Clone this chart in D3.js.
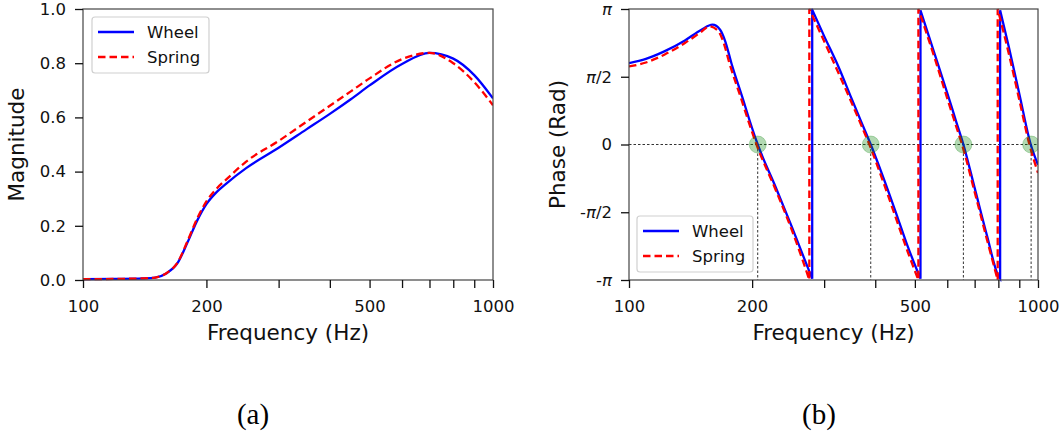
<!DOCTYPE html>
<html>
<head>
<meta charset="utf-8">
<script src="https://cdn.jsdelivr.net/npm/d3@7"></script>
<style>
  body { margin: 0; background: #fff; }
  svg { display: block; }
  text { font-family: "DejaVu Sans", sans-serif; }
  .tick text { font-family: "DejaVu Sans", sans-serif; font-size: 16.5px; fill: #111; }
  .tick line { stroke: #111; stroke-width: 1.3; }
  .frame { fill: none; stroke: #444; stroke-width: 1.2; }
  .axis-label { font-size: 21.5px; fill: #111; }
  .legend-text { font-size: 16.5px; fill: #111; }
  .caption { font-family: "Liberation Serif", "Times New Roman", serif; font-size: 29px; fill: #000; }
  .guide { stroke: #333; stroke-width: 1; stroke-dasharray: 2.5, 2; fill: none; }
</style>
</head>
<body>
<svg id="chart" width="1063" height="439"></svg>
<script>
// ---- data ----
const seriesNames = ["Wheel", "Spring"];

const magFreq = [100, 120, 140, 150, 160, 170, 180, 190, 200, 212, 224, 250, 300, 350, 400, 450, 500, 600, 700, 800, 900, 1000];
const magWheel = [0.003, 0.004, 0.006, 0.009, 0.025, 0.062, 0.14, 0.22, 0.28, 0.325, 0.357, 0.413, 0.488, 0.555, 0.613, 0.667, 0.718, 0.797, 0.838, 0.817, 0.756, 0.67];
const magSpring = [0.003, 0.004, 0.006, 0.009, 0.026, 0.064, 0.145, 0.228, 0.29, 0.338, 0.372, 0.437, 0.513, 0.583, 0.643, 0.696, 0.744, 0.815, 0.838, 0.80, 0.73, 0.645];

// phase in multiples of pi; repeated frequency = wrap from -pi to pi
const phaseWheelFreq = [100, 110, 122, 137, 150, 160, 167, 172, 178, 189, 200, 206.4, 228, 250, 269, 280.5,
  280.5, 300, 325, 350, 370, 390, 420, 455, 480, 516,
  516, 560, 600, 630, 657, 700, 750, 800, 808,
  808, 850, 900, 960, 1000];
const phaseWheel = [0.601, 0.632, 0.687, 0.768, 0.845, 0.884, 0.847, 0.76, 0.60, 0.355, 0.12, 0, -0.31, -0.606, -0.852, -0.99,
  0.995, 0.80, 0.576, 0.34, 0.165, 0, -0.256, -0.55, -0.75, -0.99,
  0.99, 0.66, 0.38, 0.175, 0, -0.32, -0.67, -0.97, -0.99,
  0.99, 0.71, 0.375, 0, -0.15];

const phaseSpringFreq = [100, 110, 122, 137, 150, 157, 165, 170, 176, 187, 198, 205, 228, 250, 268, 276,
  276, 295, 325, 350, 370, 387, 420, 455, 480, 510,
  510, 560, 600, 630, 652, 700, 750, 797,
  797, 850, 900, 953, 1000];
const phaseSpring = [0.576, 0.605, 0.663, 0.749, 0.83, 0.872, 0.84, 0.76, 0.60, 0.36, 0.13, 0, -0.33, -0.63, -0.885, -1.0,
  1.0, 0.81, 0.53, 0.31, 0.14, 0, -0.29, -0.59, -0.79, -1.0,
  1.0, 0.63, 0.34, 0.14, 0, -0.35, -0.70, -1.0,
  1.0, 0.66, 0.33, 0, -0.21];

const zeroCrossings = [206.4, 390, 657, 962];

const freqTicks = [100, 200, 300, 400, 500, 600, 700, 800, 900, 1000];
const freqTickLabels = [100, 200, 500, 1000];
const magTicks = [0, 0.2, 0.4, 0.6, 0.8, 1.0];
const phaseTicks = [-1, -0.5, 0, 0.5, 1];
const phaseTickLabels = ["-π", "-π/2", "0", "π/2", "π"];

// ---- layout ----
const colors = { Wheel: "#0000ff", Spring: "#ff0000" };
const svg = d3.select("#chart");

const panels = [
  { id: "mag", left: 83, right: 493, top: 9, bottom: 280, legend: [92, 17, 117, 56], ylabel: "Magnitude", ylabelX: 24, caption: "(a)", captionX: 253 },
  { id: "phase", left: 629, right: 1038, top: 9, bottom: 280, legend: [637, 216, 116, 56], ylabel: "Phase (Rad)", ylabelX: 565, caption: "(b)", captionX: 819 },
];

panels.forEach((p) => {
  p.x = d3.scaleLog().domain([100, 1000]).range([p.left, p.right]);
  p.g = svg.append("g").attr("class", `panel panel--${p.id}`);
  p.g.append("clipPath").attr("id", `clip-${p.id}`)
    .append("rect")
    .attr("x", p.left).attr("y", p.top - 2)
    .attr("width", p.right - p.left).attr("height", p.bottom - p.top + 4);
});

const [magP, phaseP] = panels;
magP.y = d3.scaleLinear().domain([0, 1]).range([magP.bottom, magP.top]);
phaseP.y = d3.scaleLinear().domain([-Math.PI, Math.PI]).range([phaseP.bottom, phaseP.top]);

// ---- magnitude curves ----
const magLine = d3.line()
  .x((d) => magP.x(d[0]))
  .y((d) => magP.y(d[1]))
  .curve(d3.curveMonotoneX);

const magSeries = [
  { name: "Wheel", values: magFreq.map((f, i) => [f, magWheel[i]]) },
  { name: "Spring", values: magFreq.map((f, i) => [f, magSpring[i]]) },
];

magP.g.append("g").attr("clip-path", "url(#clip-mag)")
  .selectAll("path")
  .data(magSeries)
  .join("path")
  .attr("d", (d) => magLine(d.values))
  .attr("fill", "none")
  .attr("stroke", (d) => colors[d.name])
  .attr("stroke-width", 2.3)
  .attr("stroke-dasharray", (d) => (d.name === "Spring" ? "7.5,4" : null));

// ---- phase guides ----
phaseP.g.append("line").attr("class", "guide")
  .attr("x1", phaseP.left).attr("x2", phaseP.right)
  .attr("y1", phaseP.y(0)).attr("y2", phaseP.y(0));

phaseP.g.selectAll(".vguide")
  .data(zeroCrossings)
  .join("line")
  .attr("class", "guide vguide")
  .attr("x1", (d) => phaseP.x(d)).attr("x2", (d) => phaseP.x(d))
  .attr("y1", phaseP.y(0)).attr("y2", phaseP.bottom);

// ---- phase curves (split at wraps, joined with vertical jumps) ----
const phaseLine = d3.line()
  .x((d) => phaseP.x(d[0]))
  .y((d) => phaseP.y(d[1] * Math.PI))
  .curve(d3.curveMonotoneX);

function wrappedPath(freqs, vals) {
  const segs = [[]];
  freqs.forEach((f, i) => {
    if (i > 0 && vals[i] > vals[i - 1] + 1) segs.push([]);
    segs[segs.length - 1].push([f, vals[i]]);
  });
  return segs.map((s, i) => {
    const d = phaseLine(s);
    return i ? "L" + d.slice(1) : d;
  }).join("");
}

const phaseSeries = [
  { name: "Wheel", d: wrappedPath(phaseWheelFreq, phaseWheel) },
  { name: "Spring", d: wrappedPath(phaseSpringFreq, phaseSpring) },
];

phaseP.g.append("g").attr("clip-path", "url(#clip-phase)")
  .selectAll("path")
  .data(phaseSeries)
  .join("path")
  .attr("d", (d) => d.d)
  .attr("fill", "none")
  .attr("stroke", (d) => colors[d.name])
  .attr("stroke-width", 2.3)
  .attr("stroke-dasharray", (d) => (d.name === "Spring" ? "7.5,4" : null));

phaseP.g.append("g").attr("clip-path", "url(#clip-phase)")
  .selectAll("circle")
  .data(zeroCrossings)
  .join("circle")
  .attr("cx", (d) => phaseP.x(d))
  .attr("cy", phaseP.y(0))
  .attr("r", 8.5)
  .attr("fill", "green")
  .attr("fill-opacity", 0.3)
  .attr("stroke", "green")
  .attr("stroke-opacity", 0.25);

// ---- frames, axes, labels, legends ----
function cleanAxis(g) {
  g.attr("font-family", null).attr("font-size", null);
  g.select(".domain").remove();
}

panels.forEach((p) => {
  p.g.append("rect").attr("class", "frame")
    .attr("x", p.left).attr("y", p.top)
    .attr("width", p.right - p.left).attr("height", p.bottom - p.top);

  p.g.append("g")
    .attr("transform", `translate(0,${p.bottom})`)
    .call(d3.axisBottom(p.x)
      .tickValues(freqTicks)
      .tickSize(8)
      .tickPadding(12)
      .tickFormat((d) => (freqTickLabels.includes(d) ? d : "")))
    .call(cleanAxis);

  p.g.append("text").attr("class", "axis-label")
    .attr("x", (p.left + p.right) / 2).attr("y", 340)
    .attr("text-anchor", "middle")
    .text("Frequency (Hz)");

  p.g.append("text").attr("class", "axis-label")
    .attr("transform", `translate(${p.ylabelX},${(p.top + p.bottom) / 2}) rotate(-90)`)
    .attr("text-anchor", "middle")
    .text(p.ylabel);

  p.g.append("text").attr("class", "caption")
    .attr("x", p.captionX).attr("y", 424)
    .attr("text-anchor", "middle")
    .text(p.caption);

  const [lx, ly, lw, lh] = p.legend;
  const lg = p.g.append("g").attr("class", "legend");
  lg.append("rect")
    .attr("x", lx).attr("y", ly).attr("width", lw).attr("height", lh)
    .attr("rx", 3)
    .attr("fill", "#fff").attr("fill-opacity", 0.85)
    .attr("stroke", "#d0d0d0").attr("stroke-width", 1.2);
  const items = lg.selectAll(".item")
    .data(seriesNames)
    .join("g")
    .attr("class", "item")
    .attr("transform", (d, i) => `translate(${lx},${ly + 15 + i * 25})`);
  items.append("line")
    .attr("x1", 6).attr("x2", 42)
    .attr("stroke", (d) => colors[d])
    .attr("stroke-width", 2.3)
    .attr("stroke-dasharray", (d) => (d === "Spring" ? "7.5,4" : null));
  items.append("text").attr("class", "legend-text")
    .attr("x", 55).attr("y", 6)
    .text((d) => d);
});

magP.g.append("g")
  .attr("transform", `translate(${magP.left},0)`)
  .call(d3.axisLeft(magP.y)
    .tickValues(magTicks)
    .tickSize(8)
    .tickPadding(9)
    .tickFormat(d3.format(".1f")))
  .call(cleanAxis);

phaseP.g.append("g")
  .attr("transform", `translate(${phaseP.left},0)`)
  .call(d3.axisLeft(phaseP.y)
    .tickValues(phaseTicks.map((t) => t * Math.PI))
    .tickSize(8)
    .tickPadding(9)
    .tickFormat((d, i) => phaseTickLabels[i]))
  .call(cleanAxis)
  .call((g) => g.selectAll(".tick text").each(function () {
    const t = d3.select(this);
    const label = t.text();
    t.text(null);
    label.split(/(π)/).filter((s) => s.length).forEach((part) => {
      t.append("tspan")
        .attr("font-style", part === "π" ? "italic" : null)
        .text(part);
    });
  }));
</script>
</body>
</html>
